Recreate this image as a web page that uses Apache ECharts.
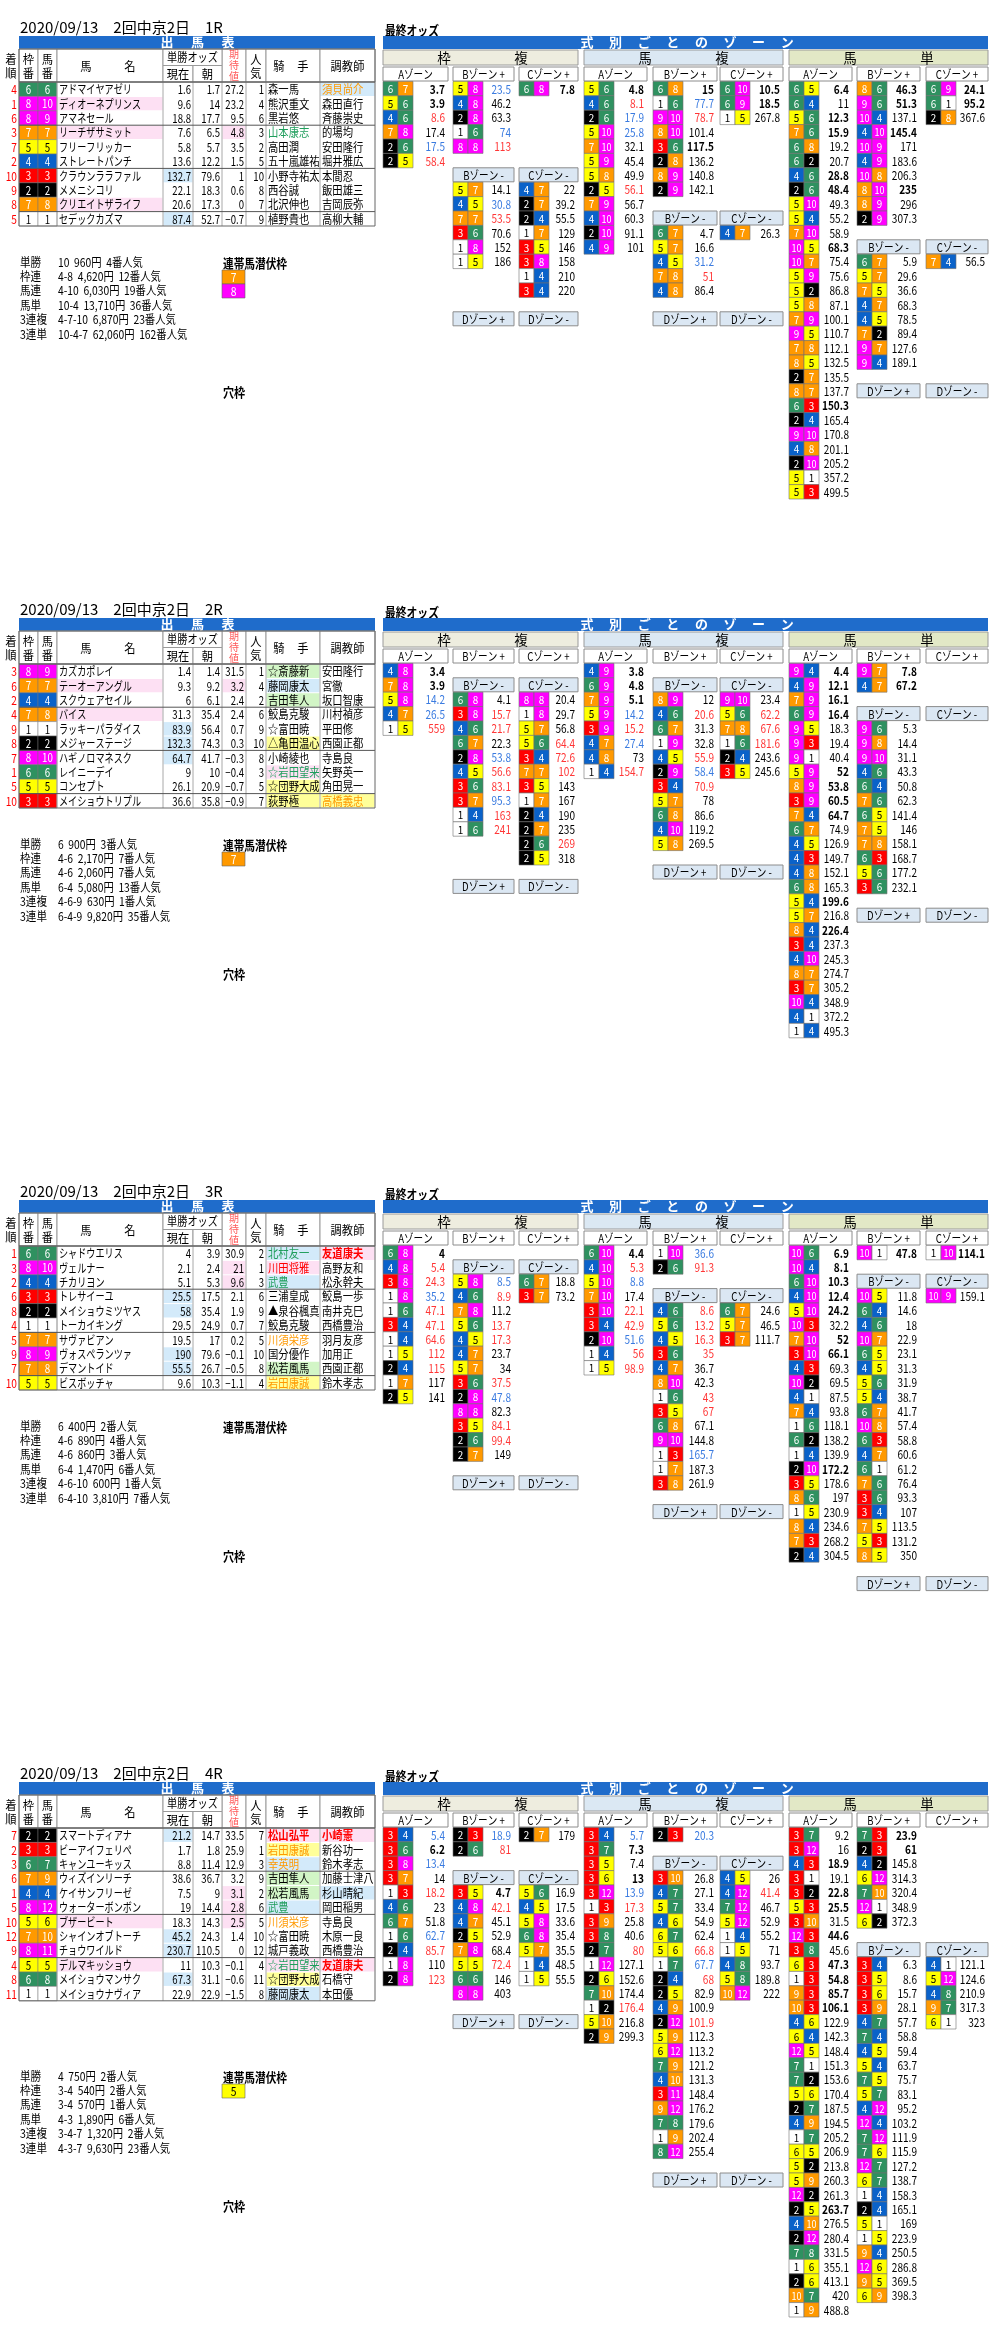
<!DOCTYPE html>
<html><head><meta charset="utf-8">
<script src="https://cdn.jsdelivr.net/npm/echarts/dist/echarts.min.js"></script>
<style>html,body{margin:0;padding:0;background:#fff}#c{width:1000px;height:2333px}</style>
</head><body><div id="c"></div>
<script>
// ---------------- DATA ----------------
const DATE_LABEL = "2020/09/13";
const MEETING = "2回中京2日";
const RACE_NO = ["1R","2R","3R","4R"];
const PAY_LABELS = ["単勝","枠連","馬連","馬単","3連複","3連単"];

// [着順, 枠番, 馬番, 馬名, 現在, 朝, 期待値, 人気, 騎手, 調教師]
const R1_rows = [
 [4,6,6,"アドマイヤアゼリ",1.6,1.7,27.2,1,"森一馬","須貝尚介"],
 [1,8,10,"ディオーネプリンス",9.6,14,23.2,4,"熊沢重文","森田直行"],
 [6,8,9,"アマネセール",18.8,17.7,9.5,6,"黒岩悠","斉藤崇史"],
 [3,7,7,"リーチザサミット",7.6,6.5,4.8,3,"山本康志","的場均"],
 [7,5,5,"フリーフリッカー",5.8,5.7,3.5,2,"高田潤","安田隆行"],
 [2,4,4,"ストレートパンチ",13.6,12.2,1.5,5,"五十嵐雄祐","堀井雅広"],
 [10,3,3,"クラウンララファル",132.7,79.6,1,10,"小野寺祐太","本間忍"],
 [9,2,2,"メメニシコリ",22.1,18.3,0.6,8,"西谷誠","飯田雄三"],
 [8,7,8,"クリエイトザライフ",20.6,17.3,0,7,"北沢伸也","吉岡辰弥"],
 [5,1,1,"セデックカズマ",87.4,52.7,-0.7,9,"植野貴也","高柳大輔"]
];
const R2_rows = [
 [3,8,9,"カズカポレイ",1.4,1.4,31.5,1,"☆斎藤新","安田隆行"],
 [6,7,7,"テーオーアングル",9.3,9.2,3.2,4,"藤岡康太","宮徹"],
 [2,4,4,"スクウェアセイル",6,6.1,2.4,2,"吉田隼人","坂口智康"],
 [4,7,8,"バイス",31.3,35.4,2.4,6,"鮫島克駿","川村禎彦"],
 [9,1,1,"ラッキーパラダイス",83.9,56.4,0.7,9,"☆富田暁","平田修"],
 [8,2,2,"メジャーステージ",132.3,74.3,0.3,10,"△亀田温心","西園正都"],
 [7,8,10,"ハギノロマネスク",64.7,41.7,-0.3,8,"小崎綾也","寺島良"],
 [1,6,6,"レイニーデイ",9,10,-0.4,3,"☆岩田望来","矢野英一"],
 [5,5,5,"コンセプト",26.1,20.9,-0.7,5,"☆団野大成","角田晃一"],
 [10,3,3,"メイショウトリプル",36.6,35.8,-0.9,7,"荻野極","高橋義忠"]
];
const R3_rows = [
 [1,6,6,"シャドウエリス",4,3.9,30.9,2,"北村友一","友道康夫"],
 [3,8,10,"ヴェルナー",2.1,2.4,21,1,"川田将雅","高野友和"],
 [2,4,4,"チカリヨン",5.1,5.3,9.6,3,"武豊","松永幹夫"],
 [6,3,3,"トレサイーユ",25.5,17.5,2.1,6,"三浦皇成","鮫島一歩"],
 [8,2,2,"メイショウミツヤス",58,35.4,1.9,9,"▲泉谷楓真","南井克巳"],
 [4,1,1,"トーカイキング",29.5,24.9,0.7,7,"鮫島克駿","西橋豊治"],
 [5,7,7,"サヴァビアン",19.5,17,0.2,5,"川須栄彦","羽月友彦"],
 [9,8,9,"ヴォスペランツァ",190,79.6,-0.1,10,"国分優作","加用正"],
 [7,7,8,"デマントイド",55.5,26.7,-0.5,8,"松若風馬","西園正都"],
 [10,5,5,"ビスボッチャ",9.6,10.3,-1.1,4,"岩田康誠","鈴木孝志"]
];
const R4_rows = [
 [7,2,2,"スマートディアナ",21.2,14.7,33.5,7,"松山弘平","小崎憲"],
 [2,3,3,"ビーアイフェリペ",1.7,1.8,25.9,1,"岩田康誠","新谷功一"],
 [3,6,7,"キャンユーキッス",8.8,11.4,12.9,3,"幸英明","鈴木孝志"],
 [6,7,9,"ウィズインリーチ",38.6,36.7,3.2,9,"吉田隼人","加藤士津八"],
 [1,4,4,"ケイサンフリーゼ",7.5,9,3.1,2,"松若風馬","杉山晴紀"],
 [5,8,12,"ウォーターボンボン",19,14.4,2.8,6,"武豊","岡田稲男"],
 [10,5,6,"ブザービート",18.3,14.3,2.5,5,"川須栄彦","寺島良"],
 [12,7,10,"シャインオブトーチ",45.2,24.3,1.4,10,"☆富田暁","木原一良"],
 [9,8,11,"チョウワイルド",230.7,110.5,0,12,"城戸義政","西橋豊治"],
 [4,5,5,"デルマキッショウ",11,10.3,-0.1,4,"☆岩田望来","友道康夫"],
 [8,6,8,"メイショウマンサク",67.3,31.1,-0.6,11,"☆団野大成","石橋守"],
 [11,1,1,"メイショウナヴィア",22.9,22.9,-1.5,8,"藤岡康太","本田優"]
];

// highlight marks: "row column background text"
const R1_hl = ["0 trainer b o","1 name p -","3 name p -","3 exp p -","3 jockey - G","6 now b -","8 name p -","9 now b -"];
const R2_hl = ["0 jockey g -","1 name p -","1 exp p -","1 jockey b -","2 jockey g -","3 name p -","4 now b -","5 now b -","5 jockey y -","6 now b -","7 jockey p G","8 jockey y -","9 jockey y -","9 trainer y o"];
const R3_hl = ["0 jockey b G","0 trainer p R","1 jockey p r","1 exp p -","2 jockey b G","2 exp p -","3 now b -","4 now b -","6 jockey - o","7 now b -","8 now b -","8 jockey g -","9 jockey y o"];
const R4_hl = ["0 now b -","0 jockey p R","0 trainer p R","1 jockey y o","2 jockey b o","3 jockey g -","4 jockey g -","4 trainer b -","4 exp p -","5 jockey b G","5 exp p -","6 name p -","6 exp p -","6 jockey - o","7 now b -","8 now b -","9 name p -","9 jockey p G","9 trainer p R","10 now b -","10 jockey y -","11 jockey b -"];

const R1_pay = ["10  960円  4番人気","4-8  4,620円  12番人気","4-10  6,030円  19番人気","10-4  13,710円  36番人気","4-7-10  6,870円  23番人気","10-4-7  62,060円  162番人気"];
const R2_pay = ["6  900円  3番人気","4-6  2,170円  7番人気","4-6  2,060円  7番人気","6-4  5,080円  13番人気","4-6-9  630円  1番人気","6-4-9  9,820円  35番人気"];
const R3_pay = ["6  400円  2番人気","4-6  890円  4番人気","4-6  860円  3番人気","6-4  1,470円  6番人気","4-6-10  600円  1番人気","6-4-10  3,810円  7番人気"];
const R4_pay = ["4  750円  2番人気","3-4  540円  2番人気","3-4  570円  1番人気","4-3  1,890円  6番人気","3-4-7  1,320円  2番人気","4-3-7  9,630円  23番人気"];

const R1_hidden = [7,8];
const R2_hidden = [7];
const R3_hidden = [];
const R4_hidden = [5];

// odds zone lists: "pair odds mark"  (mark: b bold, B blue, R red)
const R1_wakuren = {
 A:["6-7 3.7 b","5-6 3.9 b","4-6 8.6 R","7-8 17.4","2-6 17.5 B","2-5 58.4 R"],
 Bp:["5-8 23.5 B","4-8 46.2","2-8 63.3","1-6 74 B","8-8 113 R"],
 Cp:["6-8 7.8 b"],
 Bm:["5-7 14.1","4-5 30.8 B","7-7 53.5 R","3-6 70.6","1-8 152","1-5 186"],
 Cm:["4-7 22","2-7 39.2","2-4 55.5","1-7 129","3-5 146","3-8 158","1-4 210","3-4 220"]
};
const R1_umaren = {
 A:["5-6 4.8 b","4-6 8.1 R","2-6 17.9 B","5-10 25.8 B","7-10 32.1","5-9 45.4","5-8 49.9","2-5 56.1 R","7-9 56.7","4-10 60.3","2-10 91.1","4-9 101"],
 Bp:["6-8 15 b","1-6 77.7 B","9-10 78.7 R","8-10 101.4","3-6 117.5 b","2-8 136.2","8-9 140.8","2-9 142.1"],
 Cp:["6-10 10.5 b","6-9 18.5 b","1-5 267.8"],
 Bm:["6-7 4.7","5-7 16.6","4-5 31.2 B","7-8 51 R","4-8 86.4"],
 Cm:["4-7 26.3"]
};
const R1_umatan = {
 A:["6-5 6.4 b","6-4 11","5-6 12.3 b","7-6 15.9 b","6-8 19.2","6-2 20.7","4-6 28.8 b","2-6 48.4 b","5-10 49.3","5-4 55.2","7-10 58.9","10-5 68.3 b","10-7 75.4","5-9 75.6","5-2 86.8","5-8 87.1","7-9 100.1","9-5 110.7","7-8 112.1","8-5 132.5","2-7 135.5","8-7 137.7","6-3 150.3 b","2-4 165.4","9-10 170.8","4-8 201.1","2-10 205.2","5-1 357.2","5-3 499.5"],
 Bp:["8-6 46.3 b","9-6 51.3 b","10-4 137.1","4-10 145.4 b","10-9 171","4-9 183.6","10-8 206.3","8-10 235 b","8-9 296","2-9 307.3"],
 Cp:["6-9 24.1 b","6-1 95.2 b","2-8 367.6"],
 Bm:["6-7 5.9","5-7 29.6","7-5 36.6","4-7 68.3","4-5 78.5","7-2 89.4","9-7 127.6","9-4 189.1"],
 Cm:["7-4 56.5"]
};
const R2_wakuren = {
 A:["4-8 3.4 b","7-8 3.9 b","5-8 14.2 B","4-7 26.5 B","1-5 559 R"],
 Bp:[], Cp:[],
 Bm:["6-8 4.1","3-8 15.7 R","4-6 21.7 R","6-7 22.3","2-8 53.8 B","4-5 56.6 R","3-6 83.1 R","3-7 95.3 B","1-4 163 R","1-6 241 R"],
 Cm:["8-8 20.4","1-8 29.7","5-7 56.8","5-6 64.4 R","3-4 72.6 R","7-7 102 R","3-5 143","1-7 167","2-4 190","2-7 235","2-6 269 R","2-5 318"]
};
const R2_umaren = {
 A:["4-9 3.8 b","6-9 4.8 b","7-9 5.1 b","5-9 14.2 B","3-9 15.2 R","4-7 27.4 B","4-8 73","1-4 154.7 R"],
 Bp:[], Cp:[],
 Bm:["8-9 12","4-6 20.6 R","6-7 31.3","1-9 32.8","4-5 55.9 R","2-9 58.4 B","3-4 70.9 R","5-7 78","6-8 86.6","4-10 119.2","5-8 269.5"],
 Cm:["9-10 23.4","5-6 62.2 R","7-8 67.6 R","1-6 181.6 R","2-4 243.6","3-5 245.6"]
};
const R2_umatan = {
 A:["9-4 4.4 b","4-9 12.1 b","7-9 16.1 b","6-9 16.4 b","9-5 18.3","9-3 19.4","9-1 40.4","5-9 52 b","8-9 53.8 b","3-9 60.5 b","7-4 64.7 b","6-7 74.9","4-5 126.9","4-3 149.7","4-8 152.1","6-8 165.3","5-4 199.6 b","5-7 216.8","8-4 226.4 b","3-4 237.3","4-10 245.3","8-7 274.7","3-7 305.2","10-4 348.9","4-1 372.2","1-4 495.3"],
 Bp:["9-7 7.8 b","4-7 67.2 b"],
 Cp:[],
 Bm:["9-6 5.3","9-8 14.4","9-10 31.1","4-6 43.3","6-4 50.8","7-6 62.3","6-5 141.4","7-5 146","7-8 158.1","6-3 168.7","5-6 177.2","3-6 232.1"],
 Cm:[]
};
const R3_wakuren = {
 A:["6-8 4 b","4-8 5.4 R","3-8 24.3 R","1-8 35.2 B","1-6 47.1 R","3-4 47.1 R","1-4 64.6 R","1-5 112 R","2-4 115 R","1-7 117","2-5 141"],
 Bp:[], Cp:[],
 Bm:["5-8 8.5 B","4-6 8.9 R","7-8 11.2","5-6 13.7 R","4-5 17.3 R","4-7 23.7","5-7 34","3-6 37.5 R","2-8 47.8 B","8-8 82.3","3-5 84.1 R","2-6 99.4 R","2-7 149"],
 Cm:["6-7 18.8","3-7 73.2"]
};
const R3_umaren = {
 A:["6-10 4.4 b","4-10 5.3 R","5-10 8.8 B","7-10 17.4","3-10 22.1 R","3-4 42.9 R","2-10 51.6 B","1-4 56 R","1-5 98.9 R"],
 Bp:["1-10 36.6 B","2-6 91.3 R"],
 Cp:[],
 Bm:["4-6 8.6 R","5-6 13.2 R","4-5 16.3 R","3-6 35 R","4-7 36.7","8-10 42.3","1-6 43 R","3-5 67 R","6-8 67.1","9-10 144.8","1-3 165.7 B","1-7 187.3","3-8 261.9"],
 Cm:["6-7 24.6","5-7 46.5","3-7 111.7"]
};
const R3_umatan = {
 A:["10-6 6.9 b","10-4 8.1 b","6-10 10.3 b","4-10 12.4 b","5-10 24.2 b","10-3 32.2","7-10 52 b","3-10 66.1 b","4-3 69.3","10-2 69.5","4-1 87.5","7-4 93.8","1-6 118.1","6-2 138.2","1-4 139.9","2-10 172.2 b","3-5 178.6","8-6 197","1-5 230.9","8-4 234.6","7-3 268.2","2-4 304.5"],
 Bp:["10-1 47.8 b"],
 Cp:["1-10 114.1 b"],
 Bm:["10-5 11.8","6-4 14.6","4-6 18","10-7 22.9","6-5 23.1","4-5 31.3","5-6 31.9","5-4 38.7","6-7 41.7","10-8 57.4","6-3 58.8","4-7 60.6","6-1 61.2","7-6 76.4","3-6 93.3","3-4 107","7-5 113.5","5-3 131.2","8-5 350"],
 Cm:["10-9 159.1"]
};
const R4_wakuren = {
 A:["3-4 5.4 B","3-6 6.2 b","3-8 13.4 B","3-7 14","1-3 18.2 R","4-6 23","6-7 51.8","1-6 62.7 B","2-4 85.7 R","1-8 110","2-8 123 R"],
 Bp:["2-3 18.9 B","2-6 81 R"],
 Cp:["2-7 179"],
 Bm:["3-5 4.7 b","4-8 42.1 R","4-7 45.1","2-5 52.9","7-8 68.4","5-5 72.4 R","6-6 146","8-8 403"],
 Cm:["5-6 16.9","4-5 17.5","5-8 33.6","6-8 35.4","5-7 35.5","1-4 48.5","1-5 55.5"]
};
const R4_umaren = {
 A:["3-4 5.7 B","3-7 7.3 b","3-5 7.4","3-6 13 b","3-12 13.9 B","1-3 17.3 R","3-9 25.8","3-8 40.6","2-7 80 R","1-12 127.1","2-6 152.6","7-10 174.4","1-2 176.4 R","5-10 216.8","2-9 299.3"],
 Bp:["2-3 20.3 B"],
 Cp:[],
 Bm:["3-10 26.8","4-7 27.1","5-7 33.4","4-6 54.9","6-7 62.4","5-6 66.8 R","1-7 67.7 B","2-4 68 R","2-5 82.9","4-9 100.9","2-12 101.9 R","5-9 112.3","6-12 113.2","7-9 121.2","4-10 131.3","3-11 148.4","9-12 176.2","7-8 179.6","1-9 202.4","8-12 255.4"],
 Cm:["4-5 26","4-12 41.4 R","7-12 46.7","5-12 52.9","1-4 55.2","1-5 71","4-8 93.7","5-8 189.8","10-12 222"]
};
const R4_umatan = {
 A:["3-7 9.2","3-12 16","4-3 18.9 b","3-1 19.1","3-2 22.8 b","5-3 25.5 b","3-10 31.5","12-3 44.6 b","3-8 45.6","6-3 47.3 b","1-3 54.8 b","9-3 85.7 b","10-3 106.1 b","4-6 122.9","6-4 142.3","12-5 148.4","7-1 151.3","7-2 153.6","5-6 170.4","2-7 187.5","4-9 194.5","1-7 205.2","6-5 206.9","5-2 213.8","5-9 260.3","12-2 261.3","2-5 263.7 b","4-10 276.5","2-12 280.4","7-8 331.5","1-6 355.1","2-6 413.1","10-7 420","1-9 488.8"],
 Bp:["7-3 23.9 b","2-3 61 b","4-2 145.8","6-12 314.3","7-10 320.4","12-1 348.9","6-2 372.3"],
 Cp:[],
 Bm:["3-4 6.3","3-5 8.6","3-6 15.7","3-9 28.1","4-7 57.7","7-4 58.8","4-5 59.4","5-4 63.7","7-5 75.7","5-7 83.1","4-12 95.2","12-4 103.2","7-12 111.9","7-6 115.9","12-7 127.2","6-7 138.7","1-4 158.3","2-4 165.1","5-1 169","1-5 223.9","9-4 250.5","12-6 286.8","9-5 369.5","6-9 398.3"],
 Cm:["4-1 121.1","5-12 124.6","4-8 210.9","9-7 317.3","6-1 323"]
};

const RACES = [
 {rows:R1_rows, hl:R1_hl, pay:R1_pay, hidden:R1_hidden, sec:[R1_wakuren,R1_umaren,R1_umatan]},
 {rows:R2_rows, hl:R2_hl, pay:R2_pay, hidden:R2_hidden, sec:[R2_wakuren,R2_umaren,R2_umatan]},
 {rows:R3_rows, hl:R3_hl, pay:R3_pay, hidden:R3_hidden, sec:[R3_wakuren,R3_umaren,R3_umatan]},
 {rows:R4_rows, hl:R4_hl, pay:R4_pay, hidden:R4_hidden, sec:[R4_wakuren,R4_umaren,R4_umatan]}
];

// ---------------- LAYOUT / STYLE ----------------
const FONT = "'Noto Sans CJK JP','Noto Sans',sans-serif";
const BLOCK = 582, RH = 14.4;
const PAY_TOP = [262, 262, 262, 330];
const BLUE = '#1f6ccb';
const FRAME_FILL = {1:'#ffffff',2:'#000000',3:'#ff0000',4:'#0a62c9',5:'#ffff00',6:'#2f9160',7:'#ff9900',8:'#ff00ff'};
const FRAME_TEXT = {1:'#000',2:'#fff',3:'#fff',4:'#fff',5:'#000',6:'#fff',7:'#fff',8:'#fff'};
const HL_BG = {b:'#d3eafa', g:'#d2f5c6', y:'#ffff99', p:'#fde0f3'};
const HL_FG = {o:'#ff9900', r:'#ff0000', R:'#ff0000', G:'#1f9e5c'};
const ODD_C = {k:'#000', b:'#000', B:'#3a7be0', R:'#ff3636'};
const TCOL = {rank:[3,19], waku:[19,38], uma:[38,57], name:[57,163], now:[163,193], morning:[193,222], exp:[222,246], pop:[246,266], jockey:[266,320], trainer:[320,375]};
const SEC_X = [[383,578],[584,783],[789,988]];
const ZX = [
 {A:[383,448],B:[453,514],C:[519,578]},
 {A:[584,647],B:[653,717],C:[720,783]},
 {A:[789,852],B:[857,920],C:[926,988]}
];
const SEC_FILL = ['#eeeddf','#dbe8f3','#e2e8c6'];
const SEC_CH = [['枠','複'],['馬','複'],['馬','単']];
const ZONE_M = '#dbe7f3';

// ---------------- BUILD CELLS ----------------
const cells = [];
function T(x,y,s,o){o=o||{};cells.push({k:'t',x0:x,y0:y,s:String(s),c:o.c,z:o.z,b:o.b,a:o.a,sx:o.sx});}
function R(x0,y0,x1,y1,fill,stroke,lw){cells.push({k:'r',x0,y0,x1,y1,fill,stroke,lw});}
function L(x0,y0,x1,y1,stroke,lw){cells.push({k:'l',x0,y0,x1,y1,stroke,lw});}
function fmt(v){return v<0?'−'+Math.abs(v):String(v);}

function drawRace(k){
  const race = RACES[k], Y = k*BLOCK;
  const hmap = {};
  race.rows.forEach(r=>{hmap[r[2]] = r[1];});
  // ---- left: 出馬表 ----
  T(20, Y+27, DATE_LABEL+'　'+MEETING+'　'+RACE_NO[k], {z:15});
  R(19,Y+36,375,Y+49,BLUE);
  ['出','馬','表'].forEach((ch,i)=>T(167+i*30.5, Y+42.5, ch, {c:'#fff',z:13,b:true,a:'center'}));
  const H0=Y+49, H1=Y+82, HM=Y+65.5, hs='#9a9a9a';
  [[19,38],[38,57],[57,163],[222,246],[246,266],[266,320],[320,375]].forEach(c=>R(c[0],H0,c[1],H1,'#fff',hs,1));
  R(163,H0,222,HM,'#fff',hs,1); R(163,HM,193,H1,'#fff',hs,1); R(193,HM,222,H1,'#fff',hs,1);
  const ho = {z:12.5, a:'center', sx:0.9};
  T(11,Y+59,'着',ho); T(11,Y+73,'順',ho);
  T(28.5,Y+59,'枠',ho); T(28.5,Y+73,'番',ho);
  T(47.5,Y+59,'馬',ho); T(47.5,Y+73,'番',ho);
  T(86,Y+66,'馬',ho); T(130,Y+66,'名',ho);
  T(192.5,Y+57.5,'単勝オッズ',{z:12,a:'center',sx:0.85});
  T(178,Y+74,'現在',ho); T(207.5,Y+74,'朝',ho);
  T(234,Y+54.5,'期',{z:10,a:'center',c:'#ff5a5a'}); T(234,Y+65.5,'待',{z:10,a:'center',c:'#ff5a5a'}); T(234,Y+76.5,'値',{z:10,a:'center',c:'#ff5a5a'});
  T(256,Y+59,'人',ho); T(256,Y+73,'気',ho);
  T(279,Y+66,'騎',ho); T(303,Y+66,'手',ho);
  T(347.5,Y+66,'調教師',ho);
  const n = race.rows.length;
  const hl = {};
  race.hl.forEach(s=>{const p=s.split(' '); hl[p[0]+'_'+p[1]] = {bg:p[2], fg:p[3]};});
  race.rows.forEach((r,i)=>{
    const y0 = H1 + i*RH, y1 = y0+RH, cy = y0+RH/2+0.5;
    ['name','now','exp','jockey','trainer'].forEach(col=>{
      const h = hl[i+'_'+col];
      if(h && HL_BG[h.bg]) R(TCOL[col][0]+0.5,y0+0.5,TCOL[col][1]-0.5,y1-0.5,HL_BG[h.bg]);
    });
    R(19,y0,38,y1,FRAME_FILL[r[1]],'#777',0.5);
    R(38,y0,57,y1,FRAME_FILL[r[1]],'#777',0.5);
    T(17,cy,r[0],{c:'#ff0000',a:'right',z:12,sx:0.85});
    T(28.5,cy,r[1],{c:FRAME_TEXT[r[1]],a:'center',z:11.5,sx:0.85});
    T(47.5,cy,r[2],{c:FRAME_TEXT[r[1]],a:'center',z:11.5,sx:0.85});
    T(59,cy,r[3],{z:12,sx:0.76});
    T(191,cy,fmt(r[4]),{a:'right',z:12,sx:0.8});
    T(220,cy,fmt(r[5]),{a:'right',z:12,sx:0.8});
    T(244,cy,fmt(r[6]),{a:'right',z:12,sx:0.8});
    T(264,cy,r[7],{a:'right',z:12,sx:0.8});
    const hj = hl[i+'_jockey'], ht = hl[i+'_trainer'];
    T(268,cy,r[8],{z:12,sx:0.86,c:hj&&HL_FG[hj.fg],b:hj&&hj.fg==='R'});
    T(322,cy,r[9],{z:12,sx:0.86,c:ht&&HL_FG[ht.fg],b:ht&&ht.fg==='R'});
  });
  const TB = H1 + n*RH;
  [57,163,193,222,246,266,320].forEach(x=>L(x,H1,x,TB,'#a8a8a8',1));
  [3,6,9].forEach(g=>{ if(g<n) L(19,H1+g*RH,375,H1+g*RH,'#555',1); });
  L(19,H1,375,H1,'#666',1.5);
  R(19,H0,375,TB,'none','#666',1);
  // ---- payouts ----
  const PT = Y + PAY_TOP[k];
  race.pay.forEach((v,j)=>{
    T(20,PT+j*RH,PAY_LABELS[j],{z:12,sx:0.88});
    T(58,PT+j*RH,v,{z:12,sx:0.86});
  });
  T(223,PT+1,'連帯馬潜伏枠',{z:13,b:true,sx:0.82});
  race.hidden.forEach((f,j)=>{
    const yy = PT+8+j*14;
    R(222,yy,245,yy+14,FRAME_FILL[f],'#666',0.6);
    T(233.5,yy+7.5,f,{c:FRAME_TEXT[f],a:'center',z:11.5,sx:0.9});
  });
  T(223,PT+130,'穴枠',{z:13,b:true,sx:0.85});
  // ---- right: 最終オッズ ----
  T(385,Y+30,'最終オッズ',{z:13,b:true,sx:0.83});
  R(383,Y+36,988,Y+49,BLUE);
  '式別ごとのゾーン'.split('').forEach((ch,i)=>T(587+i*28.6,Y+42.5,ch,{c:'#fff',z:13,b:true,a:'center'}));
  for(let s=0;s<3;s++){
    const sx0=SEC_X[s][0], sx1=SEC_X[s][1];
    R(sx0,Y+50,sx1,Y+65,SEC_FILL[s],'#9a9a9a',1);
    T(sx0+61,Y+58,SEC_CH[s][0],{z:13.5,a:'center'});
    T(sx0+138,Y+58,SEC_CH[s][1],{z:13.5,a:'center'});
    const z = ZX[s], d = race.sec[s];
    const zy = idx => Y + 67 + idx*RH;
    const zoneHead = (x,idx,label,fill)=>{
      R(x[0],zy(idx),x[1],zy(idx)+14,fill,'#8c8c8c',1);
      T((x[0]+x[1])/2,zy(idx)+7.5,label,{z:12,a:'center',sx:0.8});
    };
    const list = (arr,x,idx0)=>{
      arr.forEach((e,i)=>{
        const p = e.split(' '), pr = p[0].split('-'), mk = p[2]||'k';
        const y0 = zy(idx0+i), cy = y0+RH/2+0.5;
        pr.forEach((h,j)=>{
          const f = s===0 ? +h : hmap[+h];
          R(x[0]+j*15,y0,x[0]+j*15+15,y0+RH,FRAME_FILL[f],'#6f6f6f',0.6);
          T(x[0]+j*15+7.5,cy,h,{c:FRAME_TEXT[f],a:'center',z:11,sx:h.length>1?0.82:0.9});
        });
        T(x[1]-3,cy,p[1],{c:ODD_C[mk],b:mk==='b',a:'right',z:12,sx:0.84});
      });
    };
    zoneHead(z.A,0,'Aゾーン','#fff');
    zoneHead(z.B,0,'Bゾーン +','#fff');
    zoneHead(z.C,0,'Cゾーン +','#fff');
    list(d.A,z.A,1); list(d.Bp,z.B,1); list(d.Cp,z.C,1);
    const bm = Math.max(d.Bp.length,d.Cp.length)+2;
    zoneHead(z.B,bm,'Bゾーン -',ZONE_M);
    zoneHead(z.C,bm,'Cゾーン -',ZONE_M);
    list(d.Bm,z.B,bm+1); list(d.Cm,z.C,bm+1);
    const di = bm + Math.max(d.Bm.length,d.Cm.length) + 2;
    if(67+di*RH+14 <= BLOCK){
      zoneHead(z.B,di,'Dゾーン +',ZONE_M);
      zoneHead(z.C,di,'Dゾーン -',ZONE_M);
    }
  }
}
for(let k=0;k<RACES.length;k++) drawRace(k);

// ---------------- RENDER ----------------
function renderItem(params, api){
  const c = cells[params.dataIndex];
  const p0 = api.coord([api.value(0), api.value(1)]);
  if(c.k==='r'){
    const p1 = api.coord([api.value(2), api.value(3)]);
    return {type:'rect', silent:true, shape:{x:p0[0],y:p0[1],width:p1[0]-p0[0],height:p1[1]-p0[1]},
      style:{fill:c.fill||'none', stroke:c.stroke||'none', lineWidth:c.lw||0}};
  }
  if(c.k==='l'){
    const p1 = api.coord([api.value(2), api.value(3)]);
    return {type:'line', silent:true, shape:{x1:p0[0],y1:p0[1],x2:p1[0],y2:p1[1]}, style:{stroke:c.stroke, lineWidth:c.lw||1}};
  }
  return {type:'text', silent:true, x:p0[0], y:p0[1], scaleX:c.sx||1,
    style:{x:0,y:0,text:c.s, fill:c.c||'#000', font:(c.b?'bold ':'')+(c.z||12)+'px '+FONT,
      textAlign:c.a||'left', textVerticalAlign:'middle'}};
}
const chart = echarts.init(document.getElementById('c'), null, {renderer:'canvas', width:1000, height:2333});
chart.setOption({
  animation:false,
  grid:{left:0,right:0,top:0,bottom:0},
  xAxis:{type:'value',min:0,max:1000,show:false},
  yAxis:{type:'value',min:0,max:2333,inverse:true,show:false},
  series:[{type:'custom',coordinateSystem:'cartesian2d',renderItem:renderItem,clip:false,silent:true,
    progressive:0, animation:false,
    data:cells.map(c=>[c.x0,c.y0,c.x1===undefined?c.x0:c.x1,c.y1===undefined?c.y0:c.y1])}]
});
</script></body></html>
